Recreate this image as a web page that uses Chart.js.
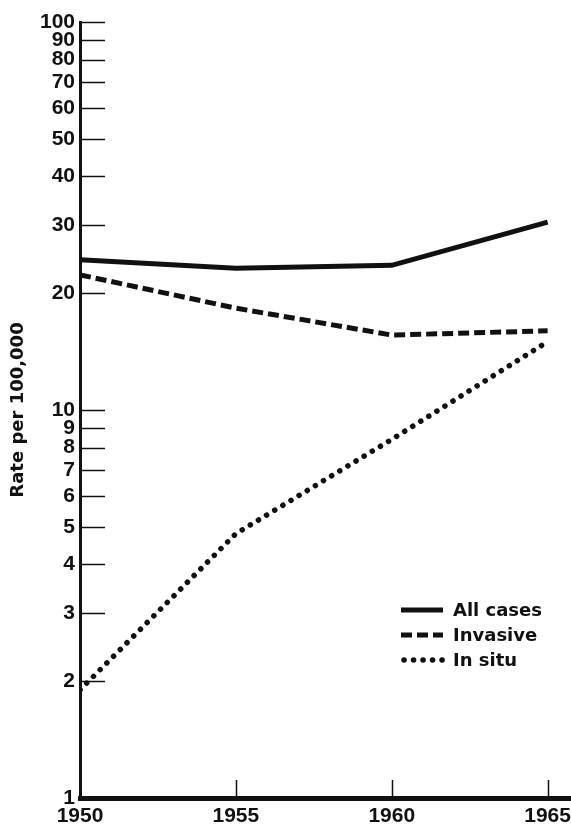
<!DOCTYPE html>
<html>
<head>
<meta charset="utf-8">
<script src="https://cdn.jsdelivr.net/npm/chart.js@4/dist/chart.umd.min.js"></script>
<style>
    html, body { margin: 0; padding: 0; background: #ffffff; }
    #wrap { width: 571px; height: 829px; position: relative; }
</style>
</head>
<body>
<div id="wrap"><canvas id="chart"></canvas></div>
<script>
const years = [1950, 1955, 1960, 1965];
const allCases = [24.4, 23.2, 23.6, 30.5];
const invasive = [22.3, 18.3, 15.6, 16.0];
const inSitu = [1.9, 4.8, 8.4, 15.0];
const yTickValues = [1, 2, 3, 4, 5, 6, 7, 8, 9, 10, 20, 30, 40, 50, 60, 70, 80, 90, 100];
const xTickValues = [1950, 1955, 1960, 1965];

const INK = "#111111";
const tickFont = { family: "Liberation Sans", weight: "bold", size: 21 };

function toPoints(values) {
    return values.map(function (v, i) {
        return { x: years[i], y: v };
    });
}

// short tick marks drawn inside the plot, like the printed figure
const innerTicks = {
    id: "innerTicks",
    afterDatasetsDraw(chart) {
        const ctx = chart.ctx;
        const xs = chart.scales.x;
        const ys = chart.scales.y;
        const area = chart.chartArea;
        ctx.save();
        ctx.strokeStyle = INK;
        ctx.lineWidth = 1.5;
        yTickValues.forEach(function (v) {
            if (v === 1) return;
            const py = Math.round(ys.getPixelForValue(v)) + 0.5;
            ctx.beginPath();
            ctx.moveTo(area.left, py);
            ctx.lineTo(area.left + 25, py);
            ctx.stroke();
        });
        xTickValues.forEach(function (v) {
            if (v === 1950) return;
            const px = Math.round(xs.getPixelForValue(v)) + 0.5;
            ctx.beginPath();
            ctx.moveTo(px, area.bottom);
            ctx.lineTo(px, area.bottom - 18);
            ctx.stroke();
        });
        ctx.restore();
    }
};

// legend sitting inside the plot area, lower right
const insideLegend = {
    id: "insideLegend",
    afterDraw(chart) {
        const ctx = chart.ctx;
        const x0 = 401;
        const y0 = 610;
        ctx.save();
        ctx.font = "bold 18px 'DejaVu Sans'";
        ctx.textBaseline = "middle";
        ctx.fillStyle = INK;
        chart.data.datasets.forEach(function (ds, i) {
            const y = y0 + i * 25;
            ctx.strokeStyle = INK;
            ctx.lineWidth = ds.borderWidth;
            ctx.lineCap = ds.borderCapStyle || "butt";
            ctx.setLineDash(ds.borderDash || []);
            ctx.beginPath();
            ctx.moveTo(x0 + (ds.borderCapStyle === "round" ? 3 : 0), y);
            ctx.lineTo(x0 + 42, y);
            ctx.stroke();
            ctx.fillText(ds.label, x0 + 52, y + 1);
        });
        ctx.restore();
    }
};

new Chart(document.getElementById("chart"), {
    type: "line",

    data: {
        datasets: [
            {
                label: "All cases",
                data: toPoints(allCases),
                borderColor: INK,
                borderWidth: 5,
                pointRadius: 0,
                tension: 0
            },
            {
                label: "Invasive",
                data: toPoints(invasive),
                borderColor: INK,
                borderWidth: 5,
                borderDash: [11, 5],
                pointRadius: 0,
                tension: 0
            },
            {
                label: "In situ",
                data: toPoints(inSitu),
                borderColor: INK,
                borderWidth: 5.5,
                borderDash: [0.1, 9.4],
                borderCapStyle: "round",
                pointRadius: 0,
                tension: 0
            }
        ]
    },

    options: {
        responsive: true,
        maintainAspectRatio: false,
        animation: false,

        layout: {
            padding: { top: 22, right: 0, bottom: 0, left: 0 }
        },

        plugins: {
            legend: { display: false },
            tooltip: { enabled: false }
        },

        scales: {
            x: {
                type: "linear",
                min: 1950,
                max: 1965.75,
                afterBuildTicks(scale) {
                    scale.ticks = xTickValues.map(function (v) { return { value: v }; });
                },
                afterFit(scale) {
                    scale.height = 31;
                    scale.paddingLeft = 0;
                    scale.paddingRight = 0;
                },
                grid: { display: false, drawTicks: false },
                border: { display: true, color: INK, width: 5 },
                ticks: {
                    color: INK,
                    font: tickFont,
                    padding: 6,
                    autoSkip: false,
                    maxRotation: 0,
                    callback: function (v) { return String(v); }
                }
            },

            y: {
                type: "logarithmic",
                min: 1,
                max: 100,
                afterBuildTicks(scale) {
                    scale.ticks = yTickValues.map(function (v) { return { value: v }; });
                },
                afterFit(scale) {
                    scale.width = 80;
                    scale.paddingTop = 0;
                    scale.paddingBottom = 0;
                },
                grid: { display: false, drawTicks: false },
                border: { display: true, color: INK, width: 3 },
                ticks: {
                    color: INK,
                    font: tickFont,
                    padding: 5,
                    autoSkip: false,
                    callback: function (v) { return String(v); }
                },
                title: {
                    display: true,
                    text: "Rate per 100,000",
                    color: INK,
                    font: { family: "DejaVu Sans", weight: "bold", size: 18 },
                    padding: { top: 8, bottom: 0 }
                }
            }
        }
    },

    plugins: [innerTicks, insideLegend]
});
</script>
</body>
</html>
